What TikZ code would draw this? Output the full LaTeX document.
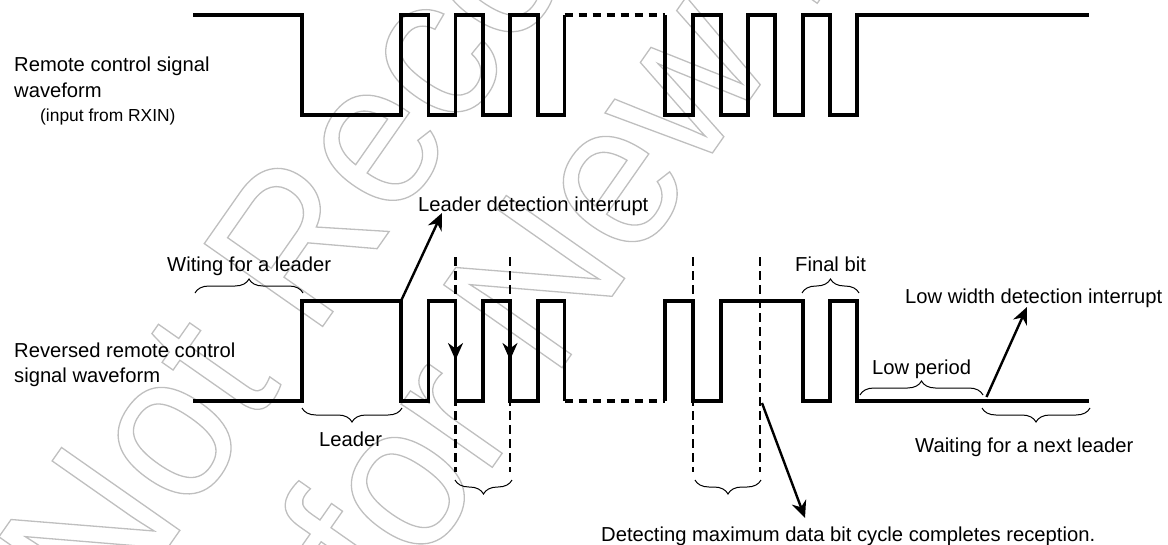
\documentclass[tikz,border=0pt]{standalone}
\usepackage{fontspec}
\setmainfont{Liberation Sans}
\newfontfamily\wmfont[FakeStretch=0.93]{Liberation Sans}
\usetikzlibrary{arrows.meta,decorations.pathreplacing}
\tikzset{
  wave/.style={line width=3.6pt,line join=miter},
  wavedash/.style={line width=3.6pt,dash pattern=on 8pt off 6pt},
  guide/.style={line width=2.2pt,dash pattern=on 9pt off 5pt},
  pointer/.style={line width=2.4pt,-{Stealth[length=17pt,width=15pt]}},
  bracket/.style={decorate,decoration={brace,amplitude=14pt},line width=1pt},
  bracketdown/.style={decorate,decoration={brace,amplitude=14pt,mirror},line width=1pt},
  lab/.style={anchor=base west,inner sep=0pt,yshift=-1pt,font=\fontsize{20.2}{24}\selectfont},
  wm/.style={anchor=base west,inner sep=0pt,rotate=55,font=\fontsize{210}{215}\selectfont\wmfont},
}
\newcommand{\outlinetext}[1]{\special{pdf:code q 1 Tr 1.3 w 0.75 G}#1\special{pdf:code Q 0 Tr}}
\begin{document}
\begin{tikzpicture}[x=1pt,y=-1pt]
\useasboundingbox (0,0) rectangle (1168,544);
\clip (0,0) rectangle (1168,544);
% watermark
\node[wm] (wma) at (108,633) {\outlinetext{Not Recommended}};
\node[wm] (wmb) at (391,612) {\outlinetext{for New Design}};
% top waveform
\draw[wave] (193,15)--(302,15)--(302,115)--(401,115)--(401,15)--(428.5,15)--(428.5,115)--(455.5,115)--(455.5,15)--(483,15)--(483,115)--(510,115)--(510,15)--(538,15)--(538,115)--(564.5,115)--(564.5,15);
\draw[wavedash] (564.5,15)--(665,15);
\draw[wave] (665,15)--(665,115)--(693,115)--(693,15)--(721,15)--(721,115)--(748,115)--(748,15)--(775,15)--(775,115)--(803,115)--(803,15)--(830,15)--(830,115)--(857,115)--(857,15)--(1089,15);
% bottom waveform
\draw[wave] (193,401)--(302,401)--(302,301)--(401,301)--(401,401)--(428.5,401)--(428.5,301)--(455.5,301)--(455.5,401)--(483,401)--(483,301)--(510,301)--(510,401)--(538,401)--(538,301)--(564.5,301)--(564.5,401);
\draw[wavedash] (564.5,401)--(665,401);
\draw[wave] (665,401)--(665,301)--(693,301)--(693,401)--(721,401)--(721,301)--(803,301)--(803,401)--(830,401)--(830,301)--(857,301)--(857,401)--(1089,401);
% guides
\coordinate (g1t) at (455.5,257); \coordinate (g1b) at (455.5,472);
\coordinate (g2t) at (510,257);   \coordinate (g2b) at (510,472);
\coordinate (g3t) at (693,257);   \coordinate (g3b) at (693,472);
\coordinate (g4t) at (760,257);   \coordinate (g4b) at (760,472);
\draw[guide] (g1t)--(g1b);
\draw[guide] (g2t)--(g2b);
\draw[guide] (g3t)--(g3b);
\draw[guide] (g4t)--(g4b);
% braces
\coordinate (b1a) at (195,293); \coordinate (b1b) at (303,293);
\coordinate (b2a) at (302,408); \coordinate (b2b) at (402,408);
\coordinate (b3a) at (455,480); \coordinate (b3b) at (512,480);
\coordinate (b4a) at (695,480); \coordinate (b4b) at (761,480);
\coordinate (b5a) at (802,293); \coordinate (b5b) at (859,293);
\coordinate (b6a) at (860,395); \coordinate (b6b) at (983,395);
\coordinate (b7a) at (982,408); \coordinate (b7b) at (1090,408);
\draw[bracket] (b1a)--(b1b);
\draw[bracketdown] (b2a)--(b2b);
\draw[bracketdown] (b3a)--(b3b);
\draw[bracketdown] (b4a)--(b4b);
\draw[bracket] (b5a)--(b5b);
\draw[bracket] (b6a)--(b6b);
\draw[bracketdown] (b7a)--(b7b);
% labels
\node[lab] (t1) at (14,70.7) {Remote control signal};
\node[lab] (t2) at (14,96) {waveform};
\node[lab,font=\fontsize{17.4}{20}\selectfont] (t3) at (40,120) {(input from RXIN)};
\node[lab] (t4) at (418,210.7) {Leader detection interrupt};
\node[lab] (t5) at (167,270.7) {Witing for a leader};
\node[lab] (t6) at (795,270.7) {Final bit};
\node[lab] (t7) at (905,302.7) {Low width detection interrupt};
\node[lab] (t8) at (14,356.7) {Reversed remote control};
\node[lab] (t9) at (14,381.7) {signal waveform};
\node[lab] (t10) at (319,445.7) {Leader};
\node[lab] (t11) at (872,373.3) {Low period};
\node[lab] (t12) at (915,451.7) {Waiting for a next leader};
\node[lab] (t13) at (601,540) {Detecting maximum data bit cycle completes reception.};
% arrows
\coordinate (a1s) at (401,301); \coordinate (a1e) at (442,213);
\coordinate (a2s) at (986.5,397); \coordinate (a2e) at (1027,307);
\coordinate (a3s) at (762,403); \coordinate (a3e) at (805,518);
\coordinate (a4s) at (455.5,320); \coordinate (a4e) at (455.5,360);
\coordinate (a5s) at (510,320); \coordinate (a5e) at (510,360);
\draw[pointer] (a1s)--(a1e);
\draw[pointer] (a2s)--(a2e);
\draw[pointer] (a3s)--(a3e);
\draw[pointer] (a4s)--(a4e);
\draw[pointer] (a5s)--(a5e);
\end{tikzpicture}
\end{document}
